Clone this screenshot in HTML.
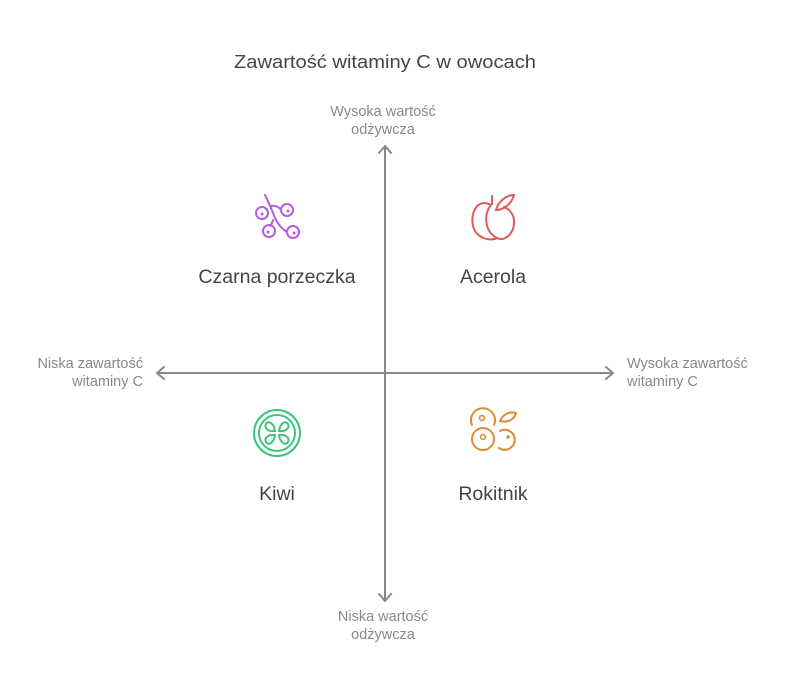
<!DOCTYPE html>
<html><head><meta charset="utf-8"><style>
html,body{margin:0;padding:0;background:#fff;}
svg{display:block;font-family:"Liberation Sans",Arial,sans-serif;}
</style></head><body>
<svg width="794" height="692" viewBox="0 0 794 692" xmlns="http://www.w3.org/2000/svg">
<text x="385" y="68" text-anchor="middle" font-size="18" fill="#444" textLength="302" lengthAdjust="spacingAndGlyphs">Zawartość witaminy C w owocach</text>
<g stroke="#888" stroke-width="2" fill="none" stroke-linecap="round" stroke-linejoin="round">
<line x1="385" y1="146" x2="385" y2="601"/>
<polyline points="379,153 385,146 391,153"/>
<polyline points="379,594 385,601 391,594"/>
<line x1="157" y1="373" x2="613" y2="373"/>
<polyline points="164,367 157,373 164,379"/>
<polyline points="606,367 613,373 606,379"/>
</g>
<g font-size="14.5" fill="#888">
<text x="383" y="116" text-anchor="middle">Wysoka wartość</text>
<text x="383" y="134" text-anchor="middle">odżywcza</text>
<text x="383" y="621" text-anchor="middle">Niska wartość</text>
<text x="383" y="639" text-anchor="middle">odżywcza</text>
<text x="143" y="368" text-anchor="end">Niska zawartość</text>
<text x="143" y="386" text-anchor="end">witaminy C</text>
<text x="627" y="368">Wysoka zawartość</text>
<text x="627" y="386">witaminy C</text>
</g>
<g font-size="19.5" fill="#444" text-anchor="middle">
<text x="277" y="283">Czarna porzeczka</text>
<text x="493" y="283">Acerola</text>
<text x="277" y="500">Kiwi</text>
<text x="493" y="500">Rokitnik</text>
</g>
<g stroke="#b35ee0" stroke-width="2" fill="none" stroke-linecap="round">
<path d="M265,195 Q270,205 275,218 Q280,228 287,232"/>
<path d="M270,206 Q278,205 281,210"/>
<path d="M273,220 Q272,224 270,226"/>
<circle cx="262" cy="213" r="6"/><circle cx="287" cy="210" r="6"/>
<circle cx="269" cy="231" r="6"/><circle cx="293" cy="232" r="6"/>
</g>
<g fill="#b35ee0"><circle cx="262" cy="214" r="1.5"/><circle cx="288" cy="211" r="1.5"/><circle cx="268" cy="232" r="1.5"/><circle cx="294" cy="233" r="1.5"/></g>
<g stroke="#e05a5a" stroke-width="2" fill="none" stroke-linecap="round">
<path d="M491,205 C478,198 470,212 473,226 C476,238 490,242 497,238 C504,242 515,234 514,220 C513,212 507,208 504,207"/>
<path d="M491,205 C483,215 485,232 497,238"/>
<path d="M492,204 L492,196"/>
<path d="M496,210 C498,202 506,195 514,195 C512,203 504,210 496,210Z"/>
</g>
<g stroke="#3cc47c" stroke-width="2" fill="none">
<circle cx="277" cy="433" r="23"/><circle cx="277" cy="433" r="18"/>
<path d="M275,431 C268,432 264,428 266,424 C268,420 274,423 275,431Z"/>
<path d="M279,431 C286,432 290,428 288,424 C286,420 280,423 279,431Z"/>
<path d="M275,435 C268,434 264,438 266,442 C268,446 274,443 275,435Z"/>
<path d="M279,435 C286,434 290,438 288,442 C286,446 280,443 279,435Z"/>
</g>
<g stroke="#e08a30" stroke-width="2" fill="none" stroke-linecap="round">
<path d="M472,425 A12,12 0 1 1 494,425"/>
<circle cx="483" cy="439" r="11"/>
<path d="M500,431 A10,10 0 1 1 499,448"/>
<path d="M500,421 C503,414 510,411 516,413 C514,420 507,423 500,421Z"/>
</g>
<g fill="#e08a30"><circle cx="482" cy="418" r="2.5" fill="none" stroke="#e08a30" stroke-width="1.5"/><circle cx="483" cy="437" r="2.5" fill="none" stroke="#e08a30" stroke-width="1.5"/><circle cx="508" cy="437" r="1.8"/></g>
</svg>
</body></html>
